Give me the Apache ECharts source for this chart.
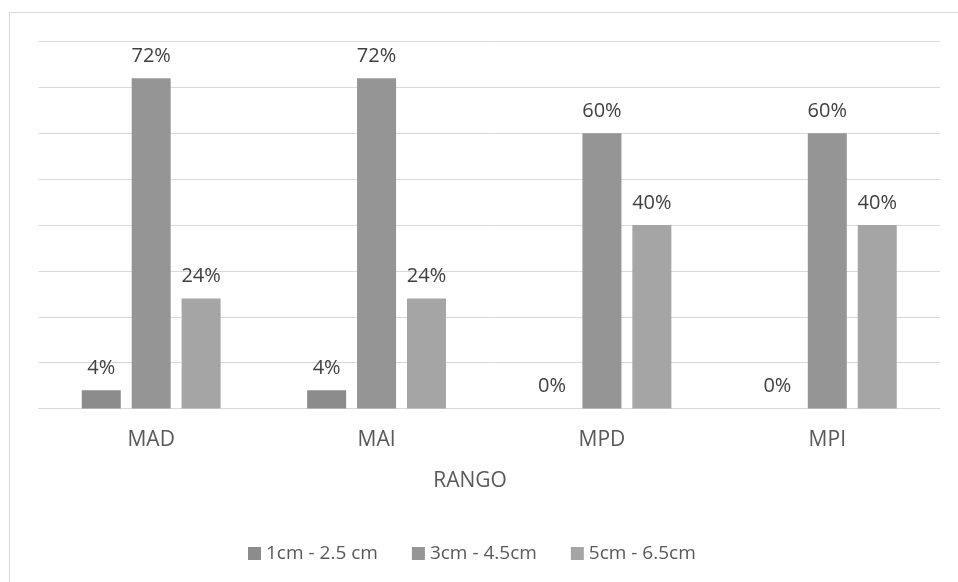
<!DOCTYPE html>
<html>
<head>
<meta charset="utf-8">
<script src="https://cdn.jsdelivr.net/npm/echarts@6/dist/echarts.min.js"></script>
<style>
html,body{margin:0;padding:0;background:#fff;}
#chart{width:958px;height:582px;}
</style>
</head>
<body>
<div id="chart"></div>
<script>
const categories = ['MAD', 'MAI', 'MPD', 'MPI'];
const seriesNames = ['1cm - 2.5 cm', '3cm - 4.5cm', '5cm - 6.5cm'];
const values1 = [4, 4, 0, 0];
const values2 = [72, 72, 60, 60];
const values3 = [24, 24, 40, 40];
const colors = ['#8c8c8c', '#959595', '#a5a5a5'];
const axisTitle = 'RANGO';

const FONT = '"Open Sans", "Liberation Sans", sans-serif';
const chart = echarts.init(document.getElementById('chart'), null, {renderer: 'canvas'});

function barSeries(name, data, color) {
  return {
    name: name,
    type: 'bar',
    data: data,
    barWidth: 39,
    barGap: '28%',
    itemStyle: {color: color},
    label: {
      show: true,
      position: 'top',
      distance: 12,
      formatter: '{c}%',
      color: '#404040',
      fontSize: 20,
      fontFamily: FONT
    },
    emphasis: {disabled: true},
    animation: false
  };
}

chart.setOption({
  backgroundColor: '#ffffff',
  animation: false,
  graphic: [{
    type: 'rect',
    shape: {x: 9.5, y: 12.5, width: 960, height: 600},
    style: {fill: 'none', stroke: '#d9d9d9', lineWidth: 1},
    silent: true
  }],
  title: {
    text: axisTitle,
    left: 465,
    top: 466,
    textAlign: 'center',
    textStyle: {color: '#595959', fontSize: 21, fontWeight: 'normal', fontFamily: FONT}
  },
  legend: {
    data: seriesNames,
    left: 243,
    top: 539,
    itemWidth: 13,
    itemHeight: 13,
    itemGap: 34,
    icon: 'rect',
    textStyle: {color: '#595959', fontSize: 19, fontFamily: FONT}
  },
  grid: {left: 38.5, right: 18, top: 41.5, bottom: 173.5, containLabel: false},
  xAxis: {
    type: 'category',
    data: categories,
    axisLine: {show: true, lineStyle: {color: '#d9d9d9', width: 1}},
    axisTick: {show: false},
    axisLabel: {color: '#595959', fontSize: 21, margin: 21, fontFamily: FONT}
  },
  yAxis: {
    type: 'value',
    min: 0,
    max: 80,
    interval: 10,
    axisLabel: {show: false},
    axisLine: {show: false},
    axisTick: {show: false},
    splitLine: {show: true, lineStyle: {color: '#d9d9d9', width: 1}}
  },
  series: [
    barSeries(seriesNames[0], values1, colors[0]),
    barSeries(seriesNames[1], values2, colors[1]),
    barSeries(seriesNames[2], values3, colors[2])
  ]
});
</script>
</body>
</html>
